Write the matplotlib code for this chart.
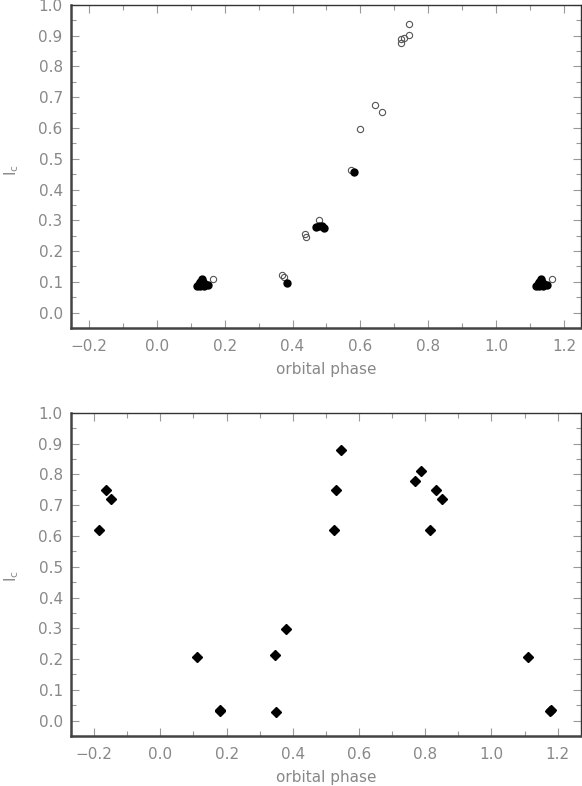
import matplotlib
matplotlib.use("Agg")
import matplotlib.pyplot as plt
from matplotlib.ticker import MultipleLocator, FuncFormatter

# ---- top panel data ----
open_phase = [0.167, 1.166, 0.370, 0.375, 0.438, 0.440, 0.477, 0.571, 0.599,
              0.643, 0.665, 0.720, 0.720, 0.730, 0.743, 0.743]
open_flux = [0.110, 0.110, 0.123, 0.116, 0.254, 0.245, 0.300, 0.464, 0.596,
             0.675, 0.651, 0.877, 0.888, 0.891, 0.901, 0.938]

filled_phase = [0.118, 0.124, 0.128, 0.132, 0.136, 0.142, 0.150, 0.126, 0.138,
                1.118, 1.124, 1.128, 1.132, 1.136, 1.142, 1.150, 1.126, 1.138,
                0.385, 0.470, 0.478, 0.486, 0.494, 0.580]
filled_flux = [0.088, 0.092, 0.100, 0.108, 0.100, 0.092, 0.090, 0.088, 0.088,
               0.088, 0.092, 0.100, 0.108, 0.100, 0.092, 0.090, 0.088, 0.088,
               0.096, 0.278, 0.282, 0.280, 0.274, 0.458]

# ---- bottom panel data ----
dia_phase = [-0.186, -0.163, -0.148, 0.111, 0.179, 0.181, 0.345, 0.350, 0.378,
             0.523, 0.531, 0.546, 0.770, 0.787, 0.813, 0.834, 0.850, 1.109, 1.178, 1.180]
dia_flux = [0.619, 0.749, 0.720, 0.208, 0.030, 0.034, 0.214, 0.029, 0.299,
            0.619, 0.749, 0.879, 0.780, 0.812, 0.619, 0.749, 0.720, 0.208, 0.030, 0.034]

xtick_vals = [-0.2, 0.0, 0.2, 0.4, 0.6, 0.8, 1.0, 1.2]
ytick_vals = [0.0, 0.1, 0.2, 0.3, 0.4, 0.5, 0.6, 0.7, 0.8, 0.9, 1.0]

plt.rcParams['font.family'] = ['DejaVu Sans']
fig = plt.figure(figsize=(5.82, 7.86), dpi=100)

label_color = '#888888'
tick_color = '#999999'


def fmt(v, pos):
    s = '%.1f' % v
    if s == '-0.0':
        s = '0.0'
    return s.replace('-', '\u2212')


def style(ax, xlim):
    ax.set_xlim(*xlim)
    ax.set_ylim(-0.05, 1.0)
    ax.set_xticks(xtick_vals)
    ax.set_yticks(ytick_vals)
    ax.xaxis.set_minor_locator(MultipleLocator(0.1))
    ax.yaxis.set_minor_locator(MultipleLocator(0.05))
    ax.xaxis.set_major_formatter(FuncFormatter(fmt))
    ax.yaxis.set_major_formatter(FuncFormatter(fmt))
    ax.tick_params(which='both', direction='in', top=True, right=True,
                   color=tick_color, labelcolor=label_color, labelsize=11, width=0.8)
    ax.tick_params(which='major', length=6, pad=6)
    ax.tick_params(which='minor', length=3.5)
    ax.tick_params(axis='x', which='major', pad=8)
    for s in ['left', 'bottom']:
        ax.spines[s].set_linewidth(1.8)
        ax.spines[s].set_color('#444444')
    for s in ['top', 'right']:
        ax.spines[s].set_linewidth(1.0)
        ax.spines[s].set_color('#333333')
    ax.set_xlabel('orbital phase', color=label_color, fontsize=11, labelpad=6)


ax1 = fig.add_axes([0.122, 0.5827, 0.876, 0.411])
ax1.plot(open_phase, open_flux, 'o', mfc='none', mec='#555555', mew=0.8, ms=4.5, ls='none')
ax1.plot(filled_phase, filled_flux, 'o', mfc='black', mec='black', ms=5, ls='none')
style(ax1, (-0.253, 1.25))

ax2 = fig.add_axes([0.122, 0.0636, 0.876, 0.411])
ax2.plot(dia_phase, dia_flux, 'D', mfc='black', mec='black', ms=5, ls='none')
style(ax2, (-0.27, 1.27))

fig.text(0.02, 0.784, r'$\mathrm{I_c}$', rotation=90, color=label_color,
         fontsize=11, ha='center', va='center')
fig.text(0.02, 0.267, r'$\mathrm{I_c}$', rotation=90, color=label_color,
         fontsize=11, ha='center', va='center')

fig.savefig('out.png', dpi=100)
